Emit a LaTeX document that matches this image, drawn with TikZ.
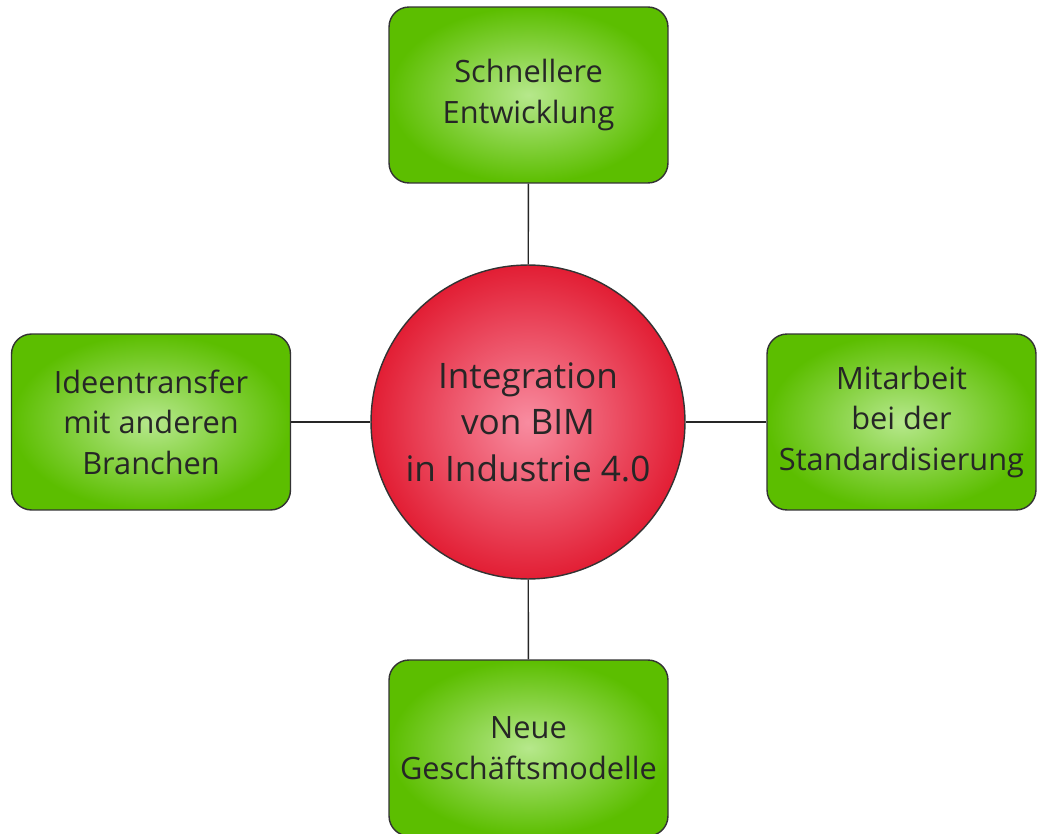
\documentclass[tikz,border=0pt]{standalone}
\usepackage{fontspec}
\setmainfont{Open Sans}
\begin{document}
\begin{tikzpicture}[
  x=0.02cm, y=-0.02cm,
  greenbox/.style={draw=black!80, line width=0.8pt, rounded corners=0.4cm,
    shading=radial, inner color=boxinner, outer color=boxgreen,
    minimum width=5.58cm, minimum height=3.52cm, align=center,
    font=\fontsize{17.5pt}{23pt}\selectfont, text=black!85},
  hub/.style={circle, draw=black!80, line width=0.8pt, shading=radial,
    inner color=hubinner, outer color=hubouter, minimum size=6.28cm,
    inner sep=0pt, align=center, font=\fontsize{20pt}{26.5pt}\selectfont, text=black!85},
  link/.style={draw=black!85, line width=0.8pt}
]
\definecolor{boxgreen}{RGB}{92,190,0}
\definecolor{boxinner}{RGB}{182,232,140}
\definecolor{hubinner}{RGB}{248,140,160}
\definecolor{hubouter}{RGB}{226,30,52}
\useasboundingbox (0,0) rectangle (1038,834);
\fill[white] (0,0) rectangle (1038,834);
\node[hub] (c) at (528,422) {Integration\\von BIM\\in Industrie 4.0};
\node[greenbox] (t) at (528.5,95) {Schnellere\\Entwicklung};
\node[greenbox] (l) at (151,422) {Ideentransfer\\mit anderen\\Branchen};
\node[greenbox, minimum width=5.38cm] (r) at (901.5,422) {Mitarbeit\\bei der\\Standardisierung};
\node[greenbox] (b) at (528.5,748) {Neue\\Geschäftsmodelle};
\draw[link] (t) -- (c);
\draw[link] (l) -- (c);
\draw[link] (r) -- (c);
\draw[link] (b) -- (c);
\end{tikzpicture}
\end{document}
